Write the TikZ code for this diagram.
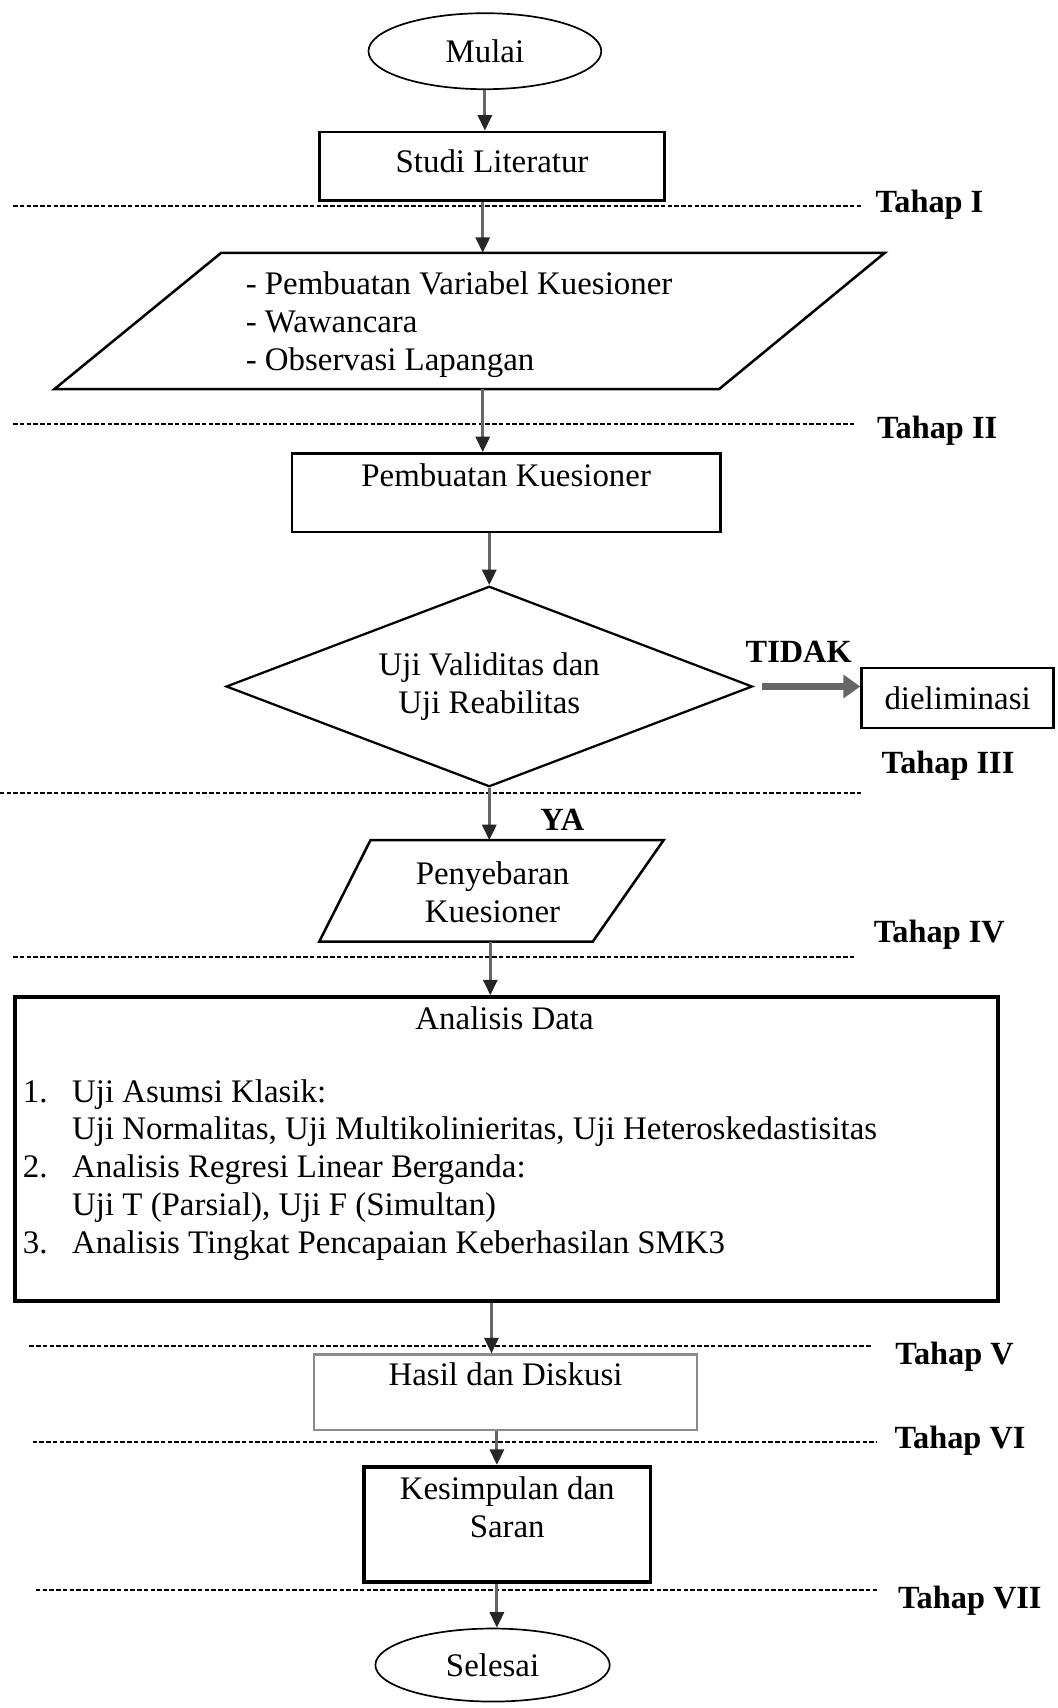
\documentclass[tikz,border=0pt]{standalone}
\usepackage{fontspec}
\setmainfont{Liberation Serif}
\usepackage{tikz}
\usetikzlibrary{shapes.geometric,arrows.meta,positioning}

\begin{document}
\begin{tikzpicture}[
  font=\fontsize{11.7}{13.5}\selectfont,
  kotak/.style={draw, line width=0.9pt, align=center, inner xsep=2pt, inner ysep=0pt},
  oval/.style={draw, ellipse, line width=0.6pt, inner sep=0pt},
  panah/.style={draw=black!60, line width=1pt, -{Triangle[length=5.5pt,width=5pt,color=black!85]}},
  tebal/.style={draw=black!60, line width=2.6pt, -{Triangle[length=6pt,width=8pt]}},
  garis/.style={line width=0.6pt, dash pattern=on 1.6pt off 0.8pt},
  judul/.style={font=\fontsize{11.5}{13.5}\selectfont\bfseries}
]
\useasboundingbox (0,0) rectangle (13.2125,-21.35);

\node[oval, minimum width=2.91cm, minimum height=0.95cm] (mulai) at (6.061,-0.640) {Mulai};
\node[kotak, text depth=3.5pt, minimum width=4.318cm, minimum height=0.858cm] (studi) at (6.15,-2.077) {Studi Literatur};

\node[align=left, anchor=west, inner sep=0pt] (variabel) at (3.065,-4.058) {- Pembuatan Variabel Kuesioner\\- Wawancara\\- Observasi Lapangan};
\draw[line width=0.9pt] (2.765,-3.160) -- (11.060,-3.160) -- (8.990,-4.863) -- (0.681,-4.863) -- cycle;
\coordinate (varatas) at (6.034,-3.160);
\coordinate (varbawah) at (6.034,-4.863);

\node[kotak, minimum width=5.353cm, minimum height=0.981cm] (buat) at (6.327,-6.157) {Pembuatan Kuesioner\\[-5pt]\strut};

\node[draw, diamond, aspect=2.625, line width=0.8pt, minimum width=6.579cm, minimum height=2.506cm, align=center, inner sep=0pt] (uji) at (6.116,-8.581) {Uji Validitas dan\\Uji Reabilitas};
\node[kotak, minimum width=2.40cm, minimum height=0.749cm] (elim) at (11.97,-8.724) {dieliminasi};
\node[judul] (tidak) at (9.984,-8.145) {TIDAK};
\node[judul] (ya) at (7.028,-10.243) {YA};

\node[align=center] (sebar) at (6.157,-11.156) {Penyebaran\\Kuesioner};
\draw[line width=0.9pt] (4.631,-10.502) -- (8.295,-10.502) -- (7.410,-11.769) -- (3.991,-11.769) -- cycle;
\coordinate (sebaratas) at (6.116,-10.502);
\coordinate (sebarbawah) at (6.129,-11.769);

\node[draw, line width=1.3pt, minimum width=12.286cm, minimum height=3.8cm] (data) at (6.334,-14.363) {};
\node (datajudul) at (6.307,-12.722) {Analisis Data};
\node[anchor=west, inner sep=0pt] (datalist) at (0.28,-14.629) {\begin{tabular}{@{}p{0.615cm}@{}l@{}}
1. & Uji Asumsi Klasik:\\
   & Uji Normalitas, Uji Multikolinieritas, Uji Heteroskedastisitas\\
2. & Analisis Regresi Linear Berganda:\\
   & Uji T (Parsial), Uji F (Simultan)\\
3. & Analisis Tingkat Pencapaian Keberhasilan SMK3
\end{tabular}};

\node[kotak, draw=black!45, line width=0.8pt, minimum width=4.794cm, minimum height=0.94cm] (hasil) at (6.32,-17.401) {Hasil dan Diskusi\\[-5pt]\strut};
\node[kotak, line width=1.3pt, minimum width=3.583cm, minimum height=1.444cm] (simpul) at (6.34,-19.056) {Kesimpulan dan\\Saran\\[-5pt]\strut};
\node[oval, minimum width=2.929cm, minimum height=0.913cm] (selesai) at (6.157,-20.813) {Selesai};
\coordinate (jalur5) at (6.143,0);
\coordinate (jalur6) at (6.211,0);

\foreach \y/\a/\b in {-2.574/0.163/10.761, -5.299/0.163/10.693, -9.916/0/10.761, -11.959/0.163/10.693, -16.822/0.368/10.897, -18.021/0.409/10.965, -19.873/0.449/10.965}
  \draw[garis] (\a,\y) -- (\b,\y);
\foreach \x/\y/\t in {11.619/-2.561/I, 11.714/-5.380/II, 11.850/-9.576/III, 11.741/-11.687/IV, 11.932/-16.958/V, 12.0/-18.007/VI, 12.123/-20.009/VII}
  \node[judul] (tahap\t) at (\x,\y) {Tahap \t};

\draw[panah] (mulai) -- (studi.north -| mulai);
\draw[panah] (studi.south -| varatas) -- (varatas);
\draw[panah] (varbawah) -- (buat.north -| varbawah);
\draw[panah] (buat.south -| uji) -- (uji.north);
\draw[tebal] ([xshift=3pt]uji.east) -- (uji.east -| elim.west);
\draw[panah] (uji.south) -- (sebaratas);
\draw[panah] (sebarbawah) -- (data.north -| sebarbawah);
\draw[panah] (data.south -| jalur5) -- (hasil.north -| jalur5);
\draw[panah] (hasil.south -| jalur6) -- (simpul.north -| jalur6);
\draw[panah] (simpul.south -| jalur6) -- (selesai.north -| jalur6);
\end{tikzpicture}
\end{document}
